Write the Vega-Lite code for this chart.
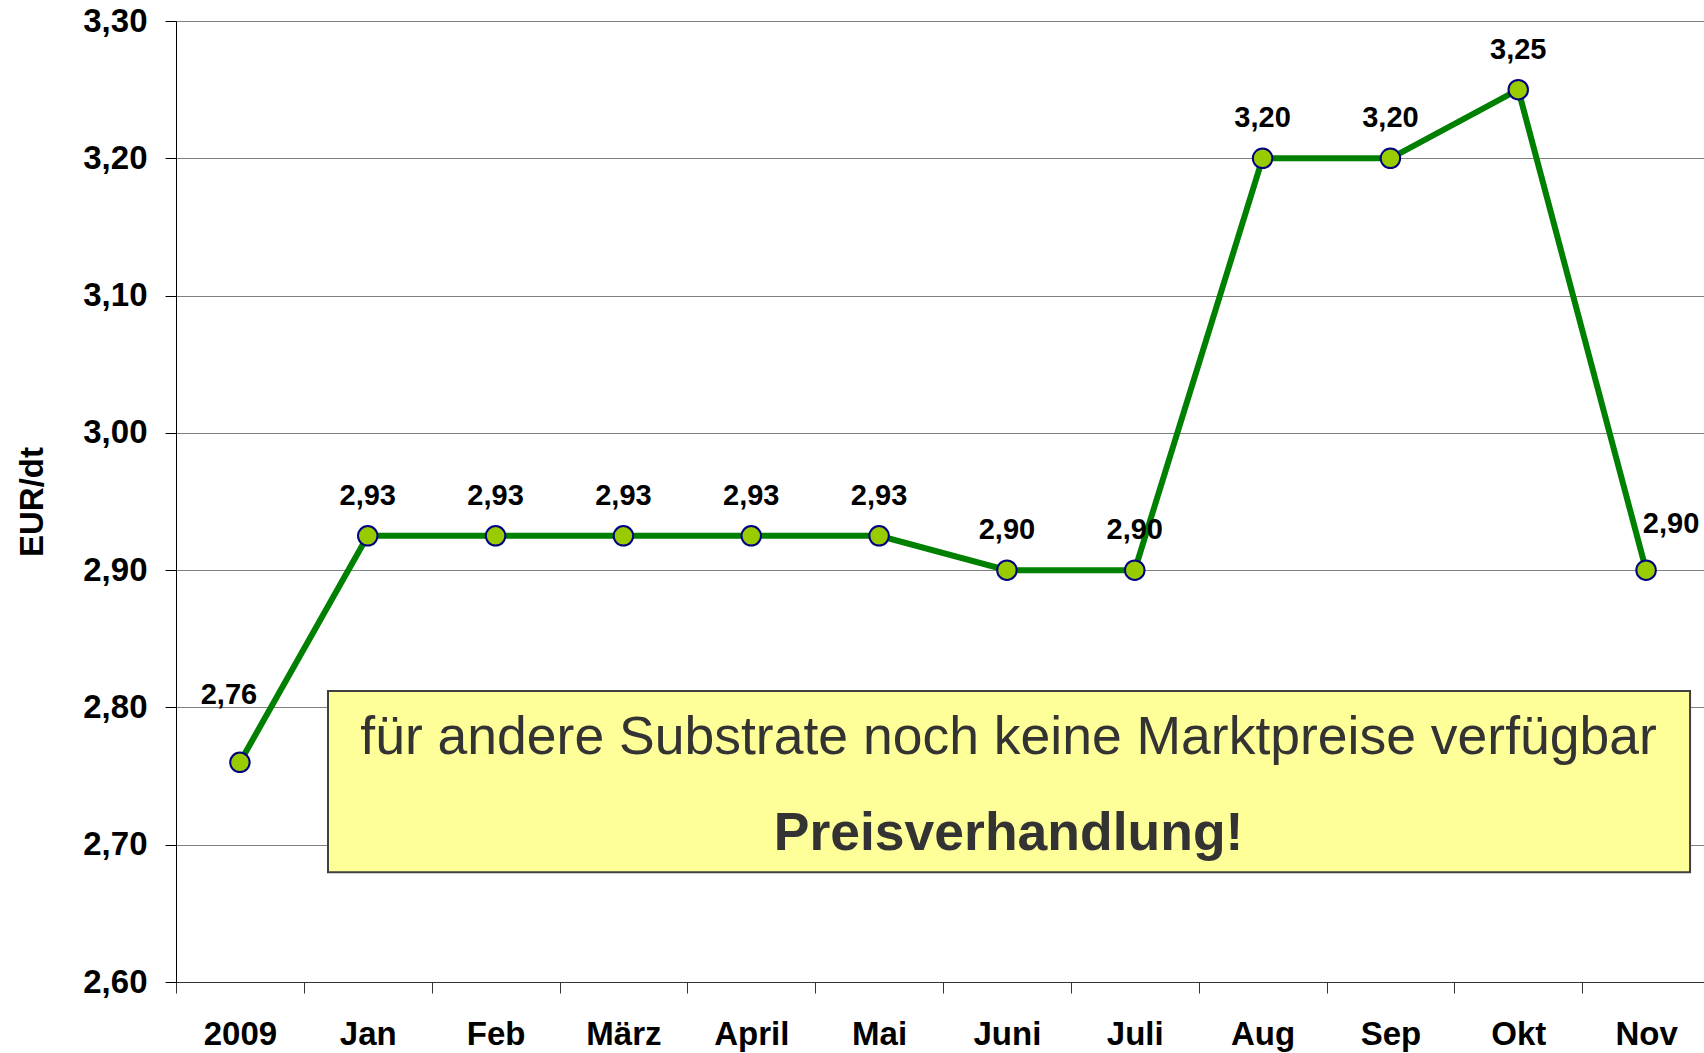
{
  "$schema": "https://vega.github.io/schema/vega-lite/v6.json",
  "width": 1528,
  "height": 961,
  "autosize": {"type": "none"},
  "padding": {"left": 176, "top": 21, "right": 0, "bottom": 71},
  "background": "white",
  "config": {
    "font": "Liberation Sans",
    "view": {"stroke": null}
  },
  "datasets": {
    "prices": [
      {"month": "2009", "price": 2.76, "label": "2,76"},
      {"month": "Jan", "price": 2.925, "label": "2,93"},
      {"month": "Feb", "price": 2.925, "label": "2,93"},
      {"month": "März", "price": 2.925, "label": "2,93"},
      {"month": "April", "price": 2.925, "label": "2,93"},
      {"month": "Mai", "price": 2.925, "label": "2,93"},
      {"month": "Juni", "price": 2.90, "label": "2,90"},
      {"month": "Juli", "price": 2.90, "label": "2,90"},
      {"month": "Aug", "price": 3.20, "label": "3,20"},
      {"month": "Sep", "price": 3.20, "label": "3,20"},
      {"month": "Okt", "price": 3.25, "label": "3,25"},
      {"month": "Nov", "price": 2.90, "label": "2,90"}
    ]
  },
  "layer": [
    {
      "data": {"name": "prices"},
      "encoding": {
        "x": {
          "field": "month", "type": "ordinal", "sort": null,
          "scale": {"type": "band", "paddingInner": 0, "paddingOuter": 0, "range": [0, 1534]},
          "axis": {
            "title": null, "labelAngle": 0, "tickBand": "extent",
            "labelFontSize": 33, "labelFontWeight": "bold", "labelColor": "black",
            "labelPadding": 25, "tickSize": 11, "tickColor": "#333333",
            "domainColor": "#333333", "grid": false
          }
        },
        "y": {
          "field": "price", "type": "quantitative",
          "scale": {"domain": [2.6, 3.3], "nice": false, "zero": false},
          "axis": {
            "title": "EUR/dt", "titleFontSize": 33, "titleFontWeight": "bold", "titleColor": "black",
            "titlePadding": 33,
            "values": [2.6, 2.7, 2.8, 2.9, 3.0, 3.1, 3.2, 3.3],
            "labelExpr": "replace(format(datum.value, '.2f'), '.', ',')",
            "labelFontSize": 33, "labelFontWeight": "bold", "labelColor": "black",
            "labelPadding": 18, "tickSize": 11, "tickColor": "black",
            "domainColor": "black", "grid": true, "gridColor": "#808080", "gridWidth": 1
          }
        }
      },
      "layer": [
        {"mark": {"type": "line", "color": "#008000", "strokeWidth": 6}},
        {"mark": {"type": "point", "shape": "circle", "filled": true, "fill": "#99cc00", "stroke": "#000080", "strokeWidth": 2, "size": 380, "opacity": 1}},
        {
          "transform": [{"filter": "datum.month !== '2009' && datum.month !== 'Nov'"}],
          "mark": {"type": "text", "fontSize": 29, "fontWeight": "bold", "color": "black", "baseline": "alphabetic", "dy": -31},
          "encoding": {"text": {"field": "label"}}
        },
        {
          "transform": [{"filter": "datum.month === '2009'"}],
          "mark": {"type": "text", "fontSize": 29, "fontWeight": "bold", "color": "black", "baseline": "alphabetic", "dx": -11, "dy": -58},
          "encoding": {"text": {"field": "label"}}
        },
        {
          "transform": [{"filter": "datum.month === 'Nov'"}],
          "mark": {"type": "text", "fontSize": 29, "fontWeight": "bold", "color": "black", "baseline": "alphabetic", "dx": 25, "dy": -37},
          "encoding": {"text": {"field": "label"}}
        }
      ]
    },
    {
      "data": {"values": [{}]},
      "layer": [
        {
          "mark": {"type": "rect", "fill": "#ffff99", "stroke": "#404040", "strokeWidth": 2},
          "encoding": {
            "x": {"datum": 1.189, "type": "quantitative", "scale": {"domain": [0, 12], "range": [0, 1534], "nice": false, "zero": false}, "axis": null},
            "x2": {"datum": 11.844},
            "y": {"datum": 2.68, "type": "quantitative", "scale": {"domain": [2.6, 3.3], "nice": false, "zero": false}},
            "y2": {"datum": 2.812}
          }
        },
        {
          "mark": {"type": "text", "text": "für andere Substrate noch keine Marktpreise verfügbar", "fontSize": 53.5, "color": "#333333", "baseline": "alphabetic", "align": "center"},
          "encoding": {
            "x": {"datum": 6.513, "type": "quantitative", "scale": {"domain": [0, 12], "range": [0, 1534], "nice": false, "zero": false}, "axis": null},
            "y": {"datum": 2.766, "type": "quantitative", "scale": {"domain": [2.6, 3.3], "nice": false, "zero": false}}
          }
        },
        {
          "mark": {"type": "text", "text": "Preisverhandlung!", "fontSize": 53.5, "fontWeight": "bold", "color": "#333333", "baseline": "alphabetic", "align": "center"},
          "encoding": {
            "x": {"datum": 6.513, "type": "quantitative", "scale": {"domain": [0, 12], "range": [0, 1534], "nice": false, "zero": false}, "axis": null},
            "y": {"datum": 2.696, "type": "quantitative", "scale": {"domain": [2.6, 3.3], "nice": false, "zero": false}}
          }
        }
      ]
    }
  ],
  "resolve": {"scale": {"x": "independent"}}
}
